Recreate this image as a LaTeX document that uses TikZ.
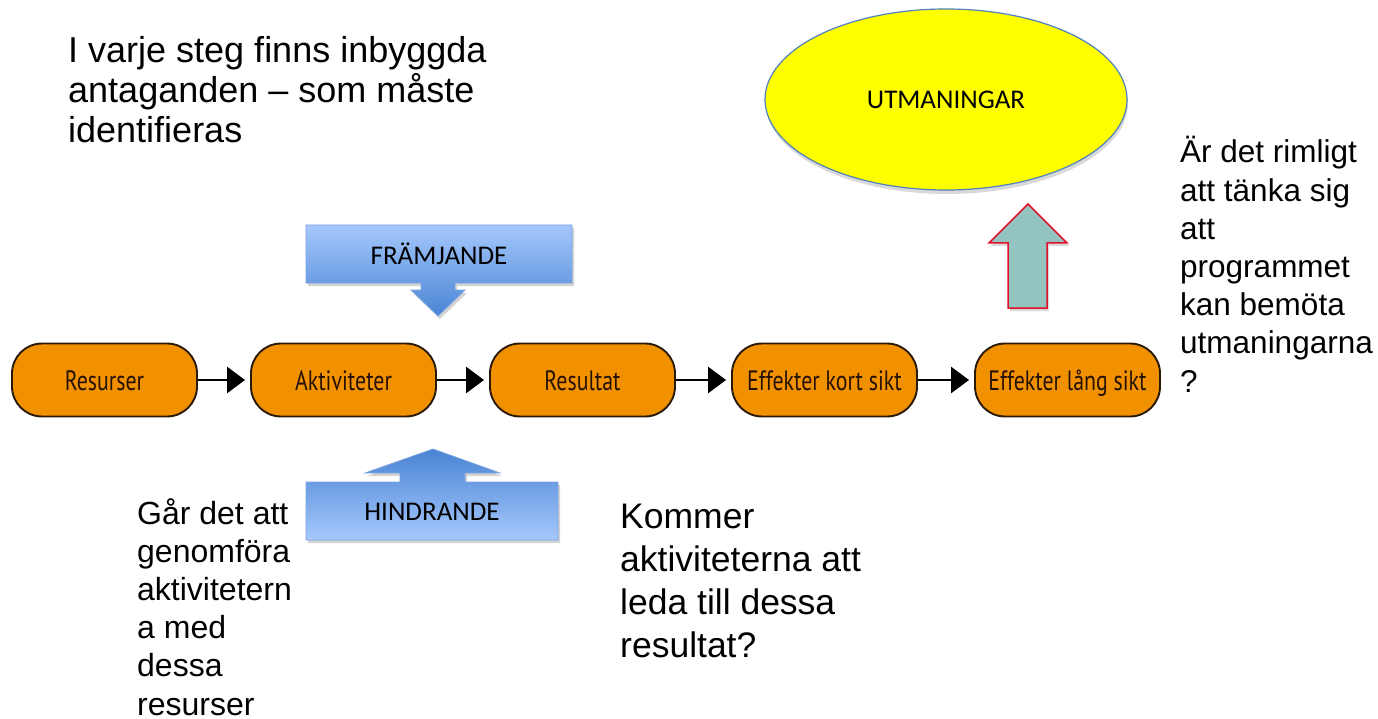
\documentclass[tikz,border=0pt]{standalone}
\usepackage{graphicx}
\usepackage{fontspec}
\setmainfont{Liberation Sans}
\newfontfamily\calib{Carlito}
\newfontfamily\myr{PT Sans}
\usetikzlibrary{shapes.geometric,arrows.meta,shadows}
\definecolor{boxorange}{HTML}{F29100}
\definecolor{boxedge}{HTML}{2A1A08}
\definecolor{boxtext}{HTML}{261203}
\definecolor{ellblue}{HTML}{4F81BD}
\definecolor{blueLight}{HTML}{A5C8FC}
\definecolor{blueDark}{HTML}{4A84D4}
\definecolor{blueEdge}{HTML}{7BA3E0}
\definecolor{tealfill}{HTML}{93C4BF}
\definecolor{arrred}{HTML}{E0102A}
\definecolor{pureyellow}{RGB}{255,255,0}
\newcommand{\cond}[1]{\scalebox{0.78}[1]{#1}}
\tikzset{
  stepbox/.style={draw=boxedge, line width=1.9pt, fill=boxorange, rounded corners=30pt,
    minimum width=185pt, minimum height=73pt, inner sep=0pt, text height=22pt, text depth=2pt,
    font=\myr\fontsize{28}{32}\selectfont, text=boxtext},
  flowarrow/.style={line width=2.6pt, draw=black, -{Triangle[length=18pt,width=26pt]}, shorten >=5pt},
  blueshape/.style={draw=blueEdge, line width=0.8pt,
    drop shadow={opacity=0.35, shadow xshift=2pt, shadow yshift=-3pt}},
  bluelabel/.style={font=\calib\fontsize{27}{32}\selectfont, text=black, inner sep=0pt},
  bigtext/.style={anchor=base west, inner sep=0pt, text=black}
}
\begin{document}
\begin{tikzpicture}[x=1pt,y=-1pt]
\useasboundingbox (0,0) rectangle (1378,719);

% yellow ellipse
\node[ellipse, draw=ellblue, line width=1.2pt, fill=pureyellow, minimum width=362pt, minimum height=181pt,
      inner sep=0pt, drop shadow={opacity=0.3, shadow xshift=1pt, shadow yshift=-4pt},
      font=\calib\fontsize{27}{32}\selectfont] (utm) at (946,99.5) {UTMANINGAR};

% teal arrow
\path[draw=arrred, line width=1.5pt, fill=tealfill, line join=miter,
      drop shadow={opacity=0.3, shadow xshift=2pt, shadow yshift=-3pt}]
  (1008,308) -- (1008,243) -- (989,243) -- (1028,204) -- (1067,243) -- (1047,243) -- (1047,308) -- cycle;

% FRAMJANDE shape
\path[blueshape, top color=blueLight, bottom color=blueDark]
  (306,225) -- (572,225) -- (572,283) -- (455,283) -- (455,290) -- (465,290) -- (438,316)
  -- (411,290) -- (421,290) -- (421,283) -- (306,283) -- cycle;
\node[bluelabel] (fram) at (439,254) {FRÄMJANDE};

% HINDRANDE shape
\path[blueshape, top color=blueDark, bottom color=blueLight]
  (306,540) -- (306,482) -- (400,482) -- (400,473) -- (365,473) -- (433,449) -- (500,473)
  -- (465,473) -- (465,482) -- (558,482) -- (558,540) -- cycle;
\node[bluelabel] (hind) at (432,512) {HINDRANDE};

% chain
\node[stepbox] (res) at (104.5,380) {\cond{Resurser}};
\node[stepbox] (akt) at (343.5,380) {\cond{Aktiviteter}};
\node[stepbox] (rslt) at (582.5,380) {\cond{Resultat}};
\node[stepbox] (kort) at (824.5,380) {\cond{Effekter kort sikt}};
\node[stepbox] (lang) at (1067.5,380) {\cond{Effekter lång sikt}};
\draw[flowarrow] (res) -- (akt);
\draw[flowarrow] (akt) -- (rslt);
\draw[flowarrow] (rslt) -- (kort);
\draw[flowarrow] (kort) -- (lang);

% texts
\node[bigtext] (intro) at (68,63) {\parbox[t]{520pt}{\fontsize{36}{40}\selectfont
  I varje steg finns inbyggda\\antaganden – som måste\\identifieras}};
\node[bigtext] (fraga) at (1180,163) {\parbox[t]{200pt}{\fontsize{31.5}{38.2}\selectfont
  Är det rimligt\\att tänka sig\\att\\programmet\\kan bemöta\\utmaningarna\\?}};
\node[bigtext] (gar) at (137,524) {\parbox[t]{200pt}{\fontsize{32}{38.2}\selectfont
  Går det att\\genomföra\\aktivitetern\\a med\\dessa\\resurser}};
\node[bigtext] (kommer) at (620,528) {\parbox[t]{300pt}{\fontsize{35.5}{43}\selectfont
  Kommer\\aktiviteterna att\\leda till dessa\\resultat?}};
\end{tikzpicture}
\end{document}
